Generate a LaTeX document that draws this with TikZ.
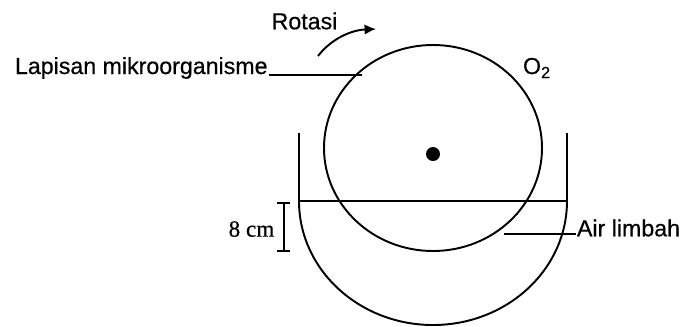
\documentclass[tikz,border=0pt]{standalone}
\usepackage{fontspec}
\setmainfont{Liberation Sans}[FakeBold=0.5]
\newfontfamily\serifcm{Liberation Serif}[FakeBold=0.5]
\usetikzlibrary{positioning,arrows.meta}
\tikzset{textlabel/.style = {inner sep=0pt, font=\fontsize{13.2}{15}\selectfont},
  wire/.style = {line width=1.1pt}}

\begin{document}
\begin{tikzpicture}[x=.02cm, y=-.02cm, wire]
      \useasboundingbox (0,0) rectangle (680,326);
      \draw (433,148) ellipse [x radius=109, y radius=103];
      \fill (433,154) circle [radius=7];
      \draw (299,133) -- (299,201) arc [start angle=180, end angle=0, x radius=134, y radius=124] -- (567,133);
      \coordinate (waterl) at (299,201);
      \coordinate (waterr) at (567,201);
      \draw (waterl) -- (waterr);
      % labels
      \node [textlabel, anchor=west] (lapisan) at (14,68) {Lapisan mikroorganisme};
      \node [textlabel] (rotasi) at (304.5,21) {Rotasi};
      \node [textlabel] (oxygen) at (537,68) {O\textsubscript{2}};
      \node [textlabel, anchor=west] (limbah) at (576,228) {Air limbah};
      \node [textlabel, font=\serifcm\fontsize{13.2}{15}\selectfont] (depth) at (251.5,229) {8 cm};
      % leaders
      \coordinate (lapisanend) at (362,75);
      \coordinate (limbahend) at (504,234);
      \draw (lapisan.south east |- lapisanend) -- (lapisanend);
      \draw (limbah.south west |- limbahend) -- (limbahend);
      \coordinate (bartop) at (284,203);
      \coordinate (barbot) at (284,251);
      \draw [line width=1.5pt] (bartop) -- (barbot);
      \draw (277,203) -- (290,203) (277,251) -- (290,251);
      \coordinate (rotstart) at (318,56);
      \coordinate (rotend) at (376,29);
      \draw [-{Latex[length=6.5pt,width=6pt]}] (rotstart) .. controls (332,38) and (352,30) .. (rotend);
    \end{tikzpicture}
\end{document}
